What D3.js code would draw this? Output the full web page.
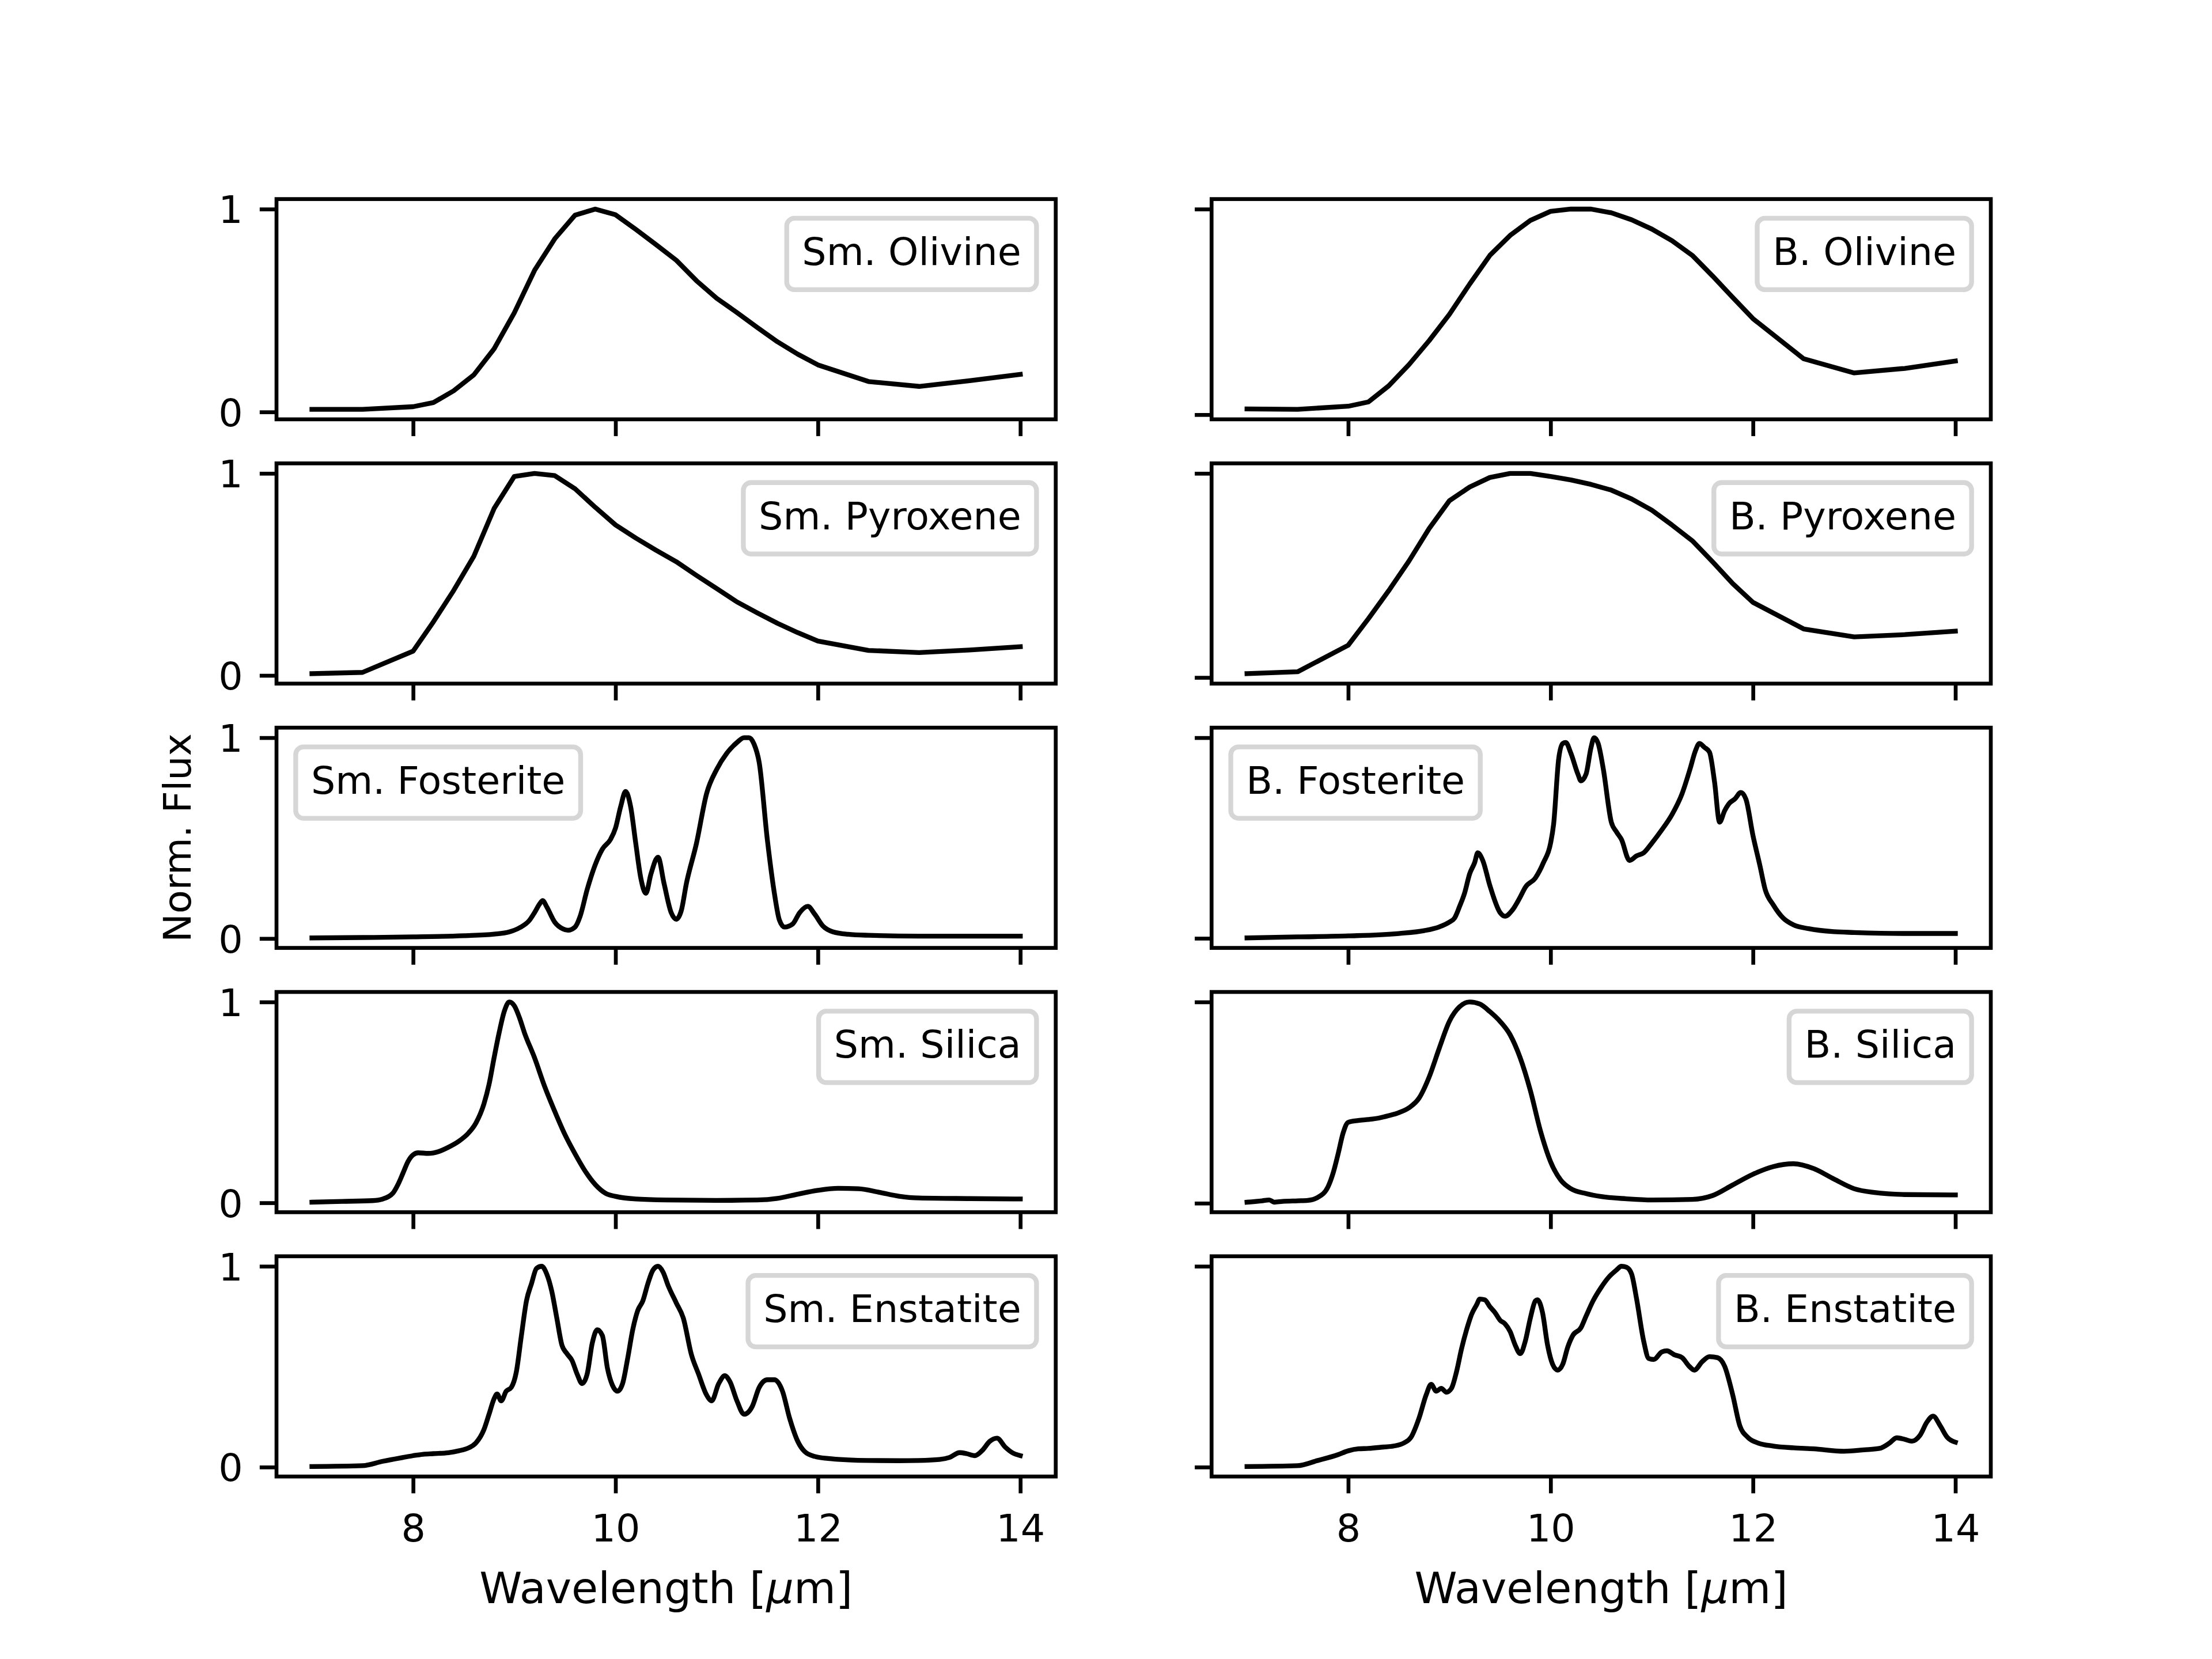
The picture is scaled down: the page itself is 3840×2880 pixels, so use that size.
<!DOCTYPE html>
<html>
<head>
<meta charset="utf-8">
<script src="https://cdn.jsdelivr.net/npm/d3@7"></script>
<style>
  body { margin: 0; background: #fff; }
  svg { display: block; }
</style>
</head>
<body>
<div id="chart-area"></div>
<script>
// Spectra, [wavelength (um), normalised flux]
var smOlivine = [[7.0,0.013],[7.5,0.013],[8.0,0.026],[8.2,0.046],[8.4,0.104],[8.6,0.183],[8.8,0.311],[9.0,0.489],[9.2,0.698],[9.4,0.854],[9.6,0.970],[9.8,1.0],[10.0,0.972],[10.2,0.90],[10.4,0.825],[10.6,0.748],[10.8,0.647],[11.0,0.56],[11.2,0.49],[11.4,0.417],[11.6,0.346],[11.8,0.285],[12.0,0.232],[12.5,0.150],[13.0,0.126],[13.5,0.154],[14.0,0.185]];

var smPyroxene = [[7.0,0.009],[7.5,0.015],[8.0,0.12],[8.2,0.265],[8.4,0.42],[8.6,0.59],[8.8,0.826],[9.0,0.985],[9.2,1.0],[9.4,0.989],[9.6,0.924],[9.8,0.832],[10.0,0.745],[10.2,0.68],[10.4,0.62],[10.6,0.563],[10.8,0.495],[11.0,0.43],[11.2,0.364],[11.4,0.31],[11.6,0.258],[11.8,0.212],[12.0,0.17],[12.5,0.124],[13.0,0.113],[13.5,0.126],[14.0,0.142]];

var smFosterite = [[7.0,0.003],[7.5,0.005],[8.0,0.008],[8.5,0.014],[8.8,0.022],[8.95,0.033],[9.05,0.053],[9.15,0.091],[9.2,0.129],[9.25,0.172],[9.28,0.189],[9.32,0.158],[9.4,0.081],[9.48,0.048],[9.53,0.041],[9.6,0.057],[9.65,0.11],[9.72,0.244],[9.8,0.368],[9.87,0.445],[9.95,0.493],[10.0,0.55],[10.05,0.655],[10.1,0.732],[10.15,0.655],[10.2,0.474],[10.25,0.301],[10.3,0.225],[10.35,0.321],[10.42,0.405],[10.48,0.273],[10.55,0.129],[10.6,0.096],[10.65,0.139],[10.7,0.273],[10.8,0.474],[10.9,0.722],[11.0,0.842],[11.1,0.923],[11.2,0.976],[11.27,1.0],[11.32,1.0],[11.37,0.967],[11.42,0.876],[11.5,0.493],[11.57,0.225],[11.62,0.091],[11.67,0.057],[11.75,0.072],[11.82,0.129],[11.9,0.16],[11.97,0.12],[12.05,0.062],[12.15,0.033],[12.3,0.021],[12.5,0.016],[13.0,0.012],[13.5,0.012],[14.0,0.012]];

var smSilica = [[7.0,0.003],[7.3,0.007],[7.6,0.011],[7.7,0.019],[7.8,0.048],[7.85,0.091],[7.9,0.148],[7.95,0.206],[8.0,0.239],[8.05,0.249],[8.15,0.246],[8.25,0.255],[8.35,0.277],[8.45,0.306],[8.55,0.349],[8.62,0.397],[8.7,0.493],[8.75,0.589],[8.8,0.722],[8.85,0.847],[8.9,0.952],[8.95,1.0],[9.0,0.981],[9.05,0.923],[9.1,0.847],[9.2,0.722],[9.3,0.579],[9.4,0.455],[9.5,0.34],[9.6,0.244],[9.7,0.158],[9.8,0.091],[9.9,0.048],[10.0,0.032],[10.2,0.019],[10.5,0.014],[11.0,0.012],[11.4,0.014],[11.6,0.022],[11.8,0.043],[12.0,0.062],[12.2,0.072],[12.4,0.07],[12.6,0.053],[12.8,0.033],[13.0,0.024],[13.5,0.021],[14.0,0.019]];

var smEnstatite = [[7.0,0.003],[7.5,0.007],[7.7,0.029],[7.9,0.048],[8.0,0.057],[8.1,0.064],[8.2,0.067],[8.35,0.072],[8.45,0.081],[8.55,0.096],[8.62,0.12],[8.7,0.187],[8.75,0.263],[8.8,0.34],[8.83,0.364],[8.87,0.33],[8.92,0.378],[8.97,0.397],[9.02,0.474],[9.07,0.655],[9.12,0.828],[9.17,0.914],[9.22,0.99],[9.27,1.0],[9.32,0.962],[9.37,0.876],[9.42,0.742],[9.47,0.608],[9.52,0.565],[9.57,0.531],[9.62,0.464],[9.67,0.416],[9.72,0.464],[9.77,0.617],[9.82,0.684],[9.87,0.655],[9.92,0.493],[9.97,0.407],[10.02,0.378],[10.07,0.416],[10.12,0.541],[10.17,0.684],[10.22,0.78],[10.27,0.828],[10.32,0.914],[10.37,0.981],[10.42,1.0],[10.47,0.971],[10.52,0.904],[10.6,0.818],[10.67,0.742],[10.75,0.56],[10.82,0.464],[10.9,0.359],[10.95,0.33],[11.02,0.416],[11.08,0.455],[11.13,0.426],[11.2,0.33],[11.27,0.263],[11.35,0.301],[11.42,0.397],[11.5,0.435],[11.57,0.435],[11.65,0.378],[11.72,0.244],[11.8,0.129],[11.87,0.077],[11.97,0.053],[12.1,0.043],[12.3,0.036],[12.5,0.033],[12.8,0.032],[13.0,0.033],[13.2,0.038],[13.3,0.048],[13.4,0.072],[13.47,0.067],[13.55,0.057],[13.62,0.081],[13.7,0.129],[13.77,0.144],[13.85,0.1],[13.92,0.072],[14.0,0.057]];

var bOlivine = [[7.0,0.028],[7.5,0.026],[8.0,0.041],[8.2,0.062],[8.4,0.14],[8.6,0.243],[8.8,0.36],[9.0,0.488],[9.2,0.635],[9.4,0.775],[9.6,0.872],[9.8,0.945],[10.0,0.989],[10.2,1.0],[10.4,1.0],[10.6,0.982],[10.8,0.948],[11.0,0.903],[11.2,0.846],[11.4,0.775],[11.6,0.675],[11.8,0.57],[12.0,0.467],[12.5,0.272],[13.0,0.203],[13.5,0.225],[14.0,0.261]];

var bPyroxene = [[7.0,0.019],[7.5,0.028],[8.0,0.158],[8.2,0.288],[8.4,0.425],[8.6,0.57],[8.8,0.73],[9.0,0.866],[9.2,0.933],[9.4,0.98],[9.6,1.0],[9.8,1.0],[10.0,0.985],[10.2,0.968],[10.4,0.946],[10.6,0.918],[10.8,0.875],[11.0,0.82],[11.2,0.747],[11.4,0.67],[11.6,0.567],[11.8,0.46],[12.0,0.368],[12.5,0.238],[13.0,0.199],[13.5,0.21],[14.0,0.227]];

var bFosterite = [[7.0,0.002],[7.5,0.007],[8.0,0.012],[8.5,0.024],[8.75,0.038],[8.9,0.057],[9.0,0.081],[9.05,0.1],[9.1,0.158],[9.15,0.225],[9.2,0.321],[9.25,0.378],[9.28,0.426],[9.33,0.388],[9.4,0.263],[9.5,0.129],[9.55,0.11],[9.62,0.139],[9.7,0.206],[9.75,0.254],[9.85,0.301],[9.93,0.378],[10.0,0.474],[10.03,0.569],[10.08,0.895],[10.12,0.971],[10.15,0.976],[10.2,0.923],[10.27,0.818],[10.3,0.785],[10.35,0.818],[10.4,0.952],[10.43,1.0],[10.47,0.971],[10.52,0.847],[10.6,0.579],[10.65,0.531],[10.7,0.493],[10.78,0.388],[10.85,0.411],[10.92,0.426],[11.0,0.474],[11.1,0.541],[11.2,0.617],[11.3,0.722],[11.38,0.847],[11.43,0.933],[11.47,0.971],[11.52,0.952],[11.57,0.928],[11.62,0.78],[11.67,0.579],[11.72,0.636],[11.77,0.675],[11.82,0.694],[11.88,0.727],[11.93,0.694],[12.0,0.512],[12.07,0.359],[12.12,0.244],[12.2,0.167],[12.3,0.1],[12.4,0.067],[12.55,0.048],[12.8,0.033],[13.0,0.029],[13.5,0.024],[14.0,0.024]];

var bSilica = [[7.0,0.005],[7.15,0.012],[7.22,0.016],[7.27,0.005],[7.35,0.009],[7.5,0.012],[7.6,0.014],[7.7,0.029],[7.8,0.081],[7.85,0.148],[7.9,0.244],[7.95,0.349],[8.0,0.402],[8.1,0.411],[8.2,0.416],[8.3,0.423],[8.4,0.435],[8.5,0.45],[8.6,0.474],[8.7,0.522],[8.8,0.627],[8.9,0.77],[9.0,0.904],[9.1,0.976],[9.2,1.0],[9.3,0.99],[9.4,0.952],[9.5,0.904],[9.6,0.837],[9.7,0.722],[9.8,0.56],[9.9,0.359],[10.0,0.206],[10.1,0.115],[10.2,0.072],[10.35,0.048],[10.5,0.033],[10.75,0.022],[11.0,0.016],[11.4,0.019],[11.6,0.038],[11.8,0.091],[12.0,0.144],[12.2,0.182],[12.4,0.196],[12.6,0.172],[12.8,0.12],[13.0,0.072],[13.2,0.053],[13.5,0.043],[14.0,0.041]];

var bEnstatite = [[7.0,0.003],[7.5,0.007],[7.7,0.033],[7.9,0.062],[8.0,0.081],[8.1,0.091],[8.2,0.093],[8.35,0.1],[8.45,0.105],[8.55,0.12],[8.62,0.148],[8.7,0.244],[8.77,0.359],[8.82,0.412],[8.87,0.378],[8.92,0.392],[8.97,0.373],[9.02,0.392],[9.07,0.474],[9.12,0.589],[9.17,0.684],[9.22,0.761],[9.27,0.809],[9.3,0.837],[9.35,0.833],[9.4,0.799],[9.45,0.77],[9.5,0.732],[9.55,0.713],[9.6,0.675],[9.65,0.608],[9.7,0.565],[9.75,0.627],[9.8,0.742],[9.85,0.828],[9.87,0.833],[9.92,0.77],[9.97,0.608],[10.02,0.512],[10.07,0.483],[10.12,0.512],[10.17,0.598],[10.22,0.656],[10.3,0.694],[10.35,0.751],[10.42,0.828],[10.5,0.895],[10.57,0.943],[10.65,0.981],[10.7,1.0],[10.75,0.995],[10.8,0.962],[10.85,0.837],[10.92,0.627],[10.97,0.541],[11.02,0.536],[11.1,0.574],[11.15,0.579],[11.22,0.56],[11.3,0.545],[11.37,0.502],[11.42,0.483],[11.5,0.526],[11.57,0.55],[11.65,0.545],[11.72,0.502],[11.8,0.359],[11.87,0.206],[11.95,0.148],[12.05,0.12],[12.2,0.105],[12.4,0.096],[12.6,0.091],[12.9,0.079],[13.1,0.086],[13.25,0.093],[13.35,0.12],[13.42,0.146],[13.5,0.138],[13.57,0.129],[13.65,0.158],[13.72,0.225],[13.78,0.254],[13.85,0.206],[13.92,0.148],[14.0,0.124]];

// Panel names, columns left (Sm.) and right (B.)
var smNames = ["Sm. Olivine", "Sm. Pyroxene", "Sm. Fosterite", "Sm. Silica", "Sm. Enstatite"];
var bNames  = ["B. Olivine", "B. Pyroxene", "B. Fosterite", "B. Silica", "B. Enstatite"];
var smSeries = [smOlivine, smPyroxene, smFosterite, smSilica, smEnstatite];
var bSeries  = [bOlivine, bPyroxene, bFosterite, bSilica, bEnstatite];

var xTicks = [8, 10, 12, 14];
var yTicks = [0, 1];
var xRange = [7, 14];

// Figure geometry (matplotlib defaults, 600 dpi)
var W = 3840, H = 2880;
var pt = 600 / 72;
var fs = 8 * pt;
var margin = { left: 0.125 * W, right: 0.1 * W, top: 0.12 * H, bottom: 0.11 * H };
var nRows = 5, nCols = 2;
var cellW = (W - margin.left - margin.right) / (nCols + 0.2 * (nCols - 1)),
    cellH = (H - margin.top - margin.bottom) / (nRows + 0.2 * (nRows - 1));
var font = "'DejaVu Sans', sans-serif";

var svg = d3.select("#chart-area")
    .append("svg")
        .attr("width", W)
        .attr("height", H)
        .attr("viewBox", "0 0 " + W + " " + H);

svg.append("rect").attr("width", W).attr("height", H).attr("fill", "#fff");

// padded domain like matplotlib autoscale
function pad(ext) {
    var r = ext[1] - ext[0];
    return [ext[0] - 0.05 * r, ext[1] + 0.05 * r];
}

var x = d3.scaleLinear()
    .domain(pad(xRange))
    .range([0, cellW]);

function drawPanel(col, row, name, data) {
    var gx = margin.left + col * cellW * 1.2,
        gy = margin.top + row * cellH * 1.2;
    var g = svg.append("g")
        .attr("transform", "translate(" + gx + "," + gy + ")");

    var y = d3.scaleLinear()
        .domain(pad(d3.extent(data, function(d){ return d[1]; })))
        .range([cellH, 0]);

    // coarse spectra (top two rows) keep straight segments
    var line = d3.line()
        .x(function(d){ return x(d[0]); })
        .y(function(d){ return y(d[1]); })
        .curve(row < 2 ? d3.curveLinear : d3.curveMonotoneX);

    // Spectrum
    g.append("path")
        .datum(data)
        .attr("fill", "none")
        .attr("stroke", "#000")
        .attr("stroke-width", 1 * pt)
        .attr("stroke-linejoin", "round")
        .attr("stroke-linecap", "square")
        .attr("d", line);

    // Y axis
    var yAxisCall = d3.axisLeft(y)
        .tickValues(yTicks)
        .tickSize(3.5 * pt)
        .tickPadding(3.5 * pt)
        .tickFormat(col === 0 ? d3.format("d") : "");
    var ya = g.append("g").call(yAxisCall);

    // X axis
    var xAxisCall = d3.axisBottom(x)
        .tickValues(xTicks)
        .tickSize(3.5 * pt)
        .tickPadding(3.5 * pt)
        .tickFormat(row === nRows - 1 ? d3.format("d") : "");
    var xa = g.append("g")
        .attr("transform", "translate(0," + cellH + ")")
        .call(xAxisCall);

    [ya, xa].forEach(function(a){
        a.select(".domain").remove();
        a.selectAll(".tick line").attr("stroke", "#000").attr("stroke-width", 0.8 * pt);
        a.selectAll(".tick text")
            .attr("fill", "#000")
            .attr("font-family", font)
            .attr("font-size", fs);
    });
    ya.selectAll(".tick text").attr("dy", "0.36em");
    xa.selectAll(".tick text").attr("dy", "0.81em");

    // Spines
    g.append("rect")
        .attr("width", cellW)
        .attr("height", cellH)
        .attr("fill", "none")
        .attr("stroke", "#000")
        .attr("stroke-width", 0.8 * pt);

    // Legend (label only, no handle)
    var bpad = 0.4 * fs, axpad = 0.5 * fs;
    var leg = g.append("g");
    var frame = leg.append("rect");
    var txt = leg.append("text")
        .attr("font-family", font)
        .attr("font-size", fs)
        .attr("fill", "#000")
        .text(name);
    var tw = txt.node().getComputedTextLength();
    var bw = tw + 2 * bpad, bh = 124;
    var upperLeft = name.indexOf("Fosterite") >= 0;
    var lx = upperLeft ? axpad : cellW - axpad - bw;
    leg.attr("transform", "translate(" + lx + "," + axpad + ")");
    frame.attr("width", bw)
        .attr("height", bh)
        .attr("rx", 0.2 * fs)
        .attr("fill", "#fff")
        .attr("fill-opacity", 0.8)
        .attr("stroke", "#d6d6d6")
        .attr("stroke-width", 1 * pt);
    txt.attr("x", bpad).attr("y", 81);

    // X label on bottom row
    if (row === nRows - 1) {
        var xl = g.append("text")
            .attr("x", cellW / 2)
            .attr("y", cellH + 220)
            .attr("text-anchor", "middle")
            .attr("font-family", font)
            .attr("font-size", 9 * pt)
            .attr("fill", "#000");
        xl.append("tspan").text("Wavelength [");
        xl.append("tspan").attr("font-style", "italic").text("\u03bc");
        xl.append("tspan").text("m]");
    }

    // Y label on middle-left panel
    if (col === 0 && row === 2) {
        g.append("text")
            .attr("transform", "translate(" + (331 - margin.left) + "," + (cellH / 2) + ") rotate(-90)")
            .attr("text-anchor", "middle")
            .attr("font-family", font)
            .attr("font-size", fs)
            .attr("fill", "#000")
            .text("Norm. Flux");
    }
}

smSeries.forEach(function(data, i){ drawPanel(0, i, smNames[i], data); });
bSeries.forEach(function(data, i){ drawPanel(1, i, bNames[i], data); });
</script>
</body>
</html>
